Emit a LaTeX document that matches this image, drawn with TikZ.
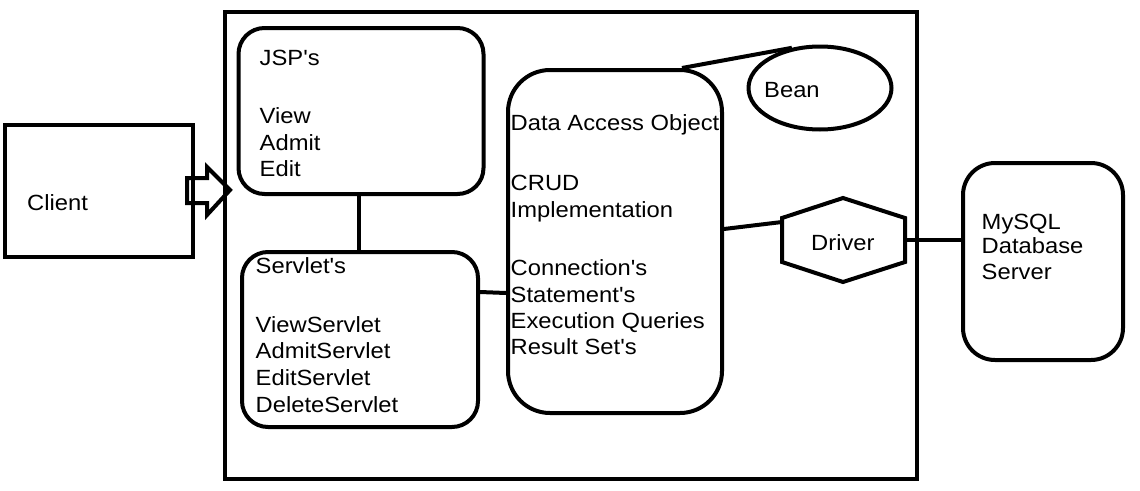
\documentclass[tikz,border=0pt]{standalone}
\usepackage{fontspec}
\newfontfamily\dfont{Liberation Sans}[FakeStretch=1.08]
\usetikzlibrary{shapes.geometric,calc}
\begin{document}
\begin{tikzpicture}[x=1pt,y=-1pt,
  ln/.style={line width=4pt},
  box/.style={ln,draw,rectangle,inner sep=0pt},
  txt/.style={anchor=base west,inner sep=0pt,font=\dfont\fontsize{22}{26}\selectfont}]
\useasboundingbox (0,0) rectangle (1140,490);
\fill[white] (0,0) rectangle (1140,490);
% outer box
\node[box,minimum width=692pt,minimum height=467pt] (outer) at (571,245.5) {};
% client
\node[box,minimum width=188pt,minimum height=132pt] (client) at (99,191) {};
\node[txt] (tclient) at (27,210) {Client};
% block arrow
\draw[ln,line join=miter] (187,178) -- (207,178) -- (207,167) -- (230,190) -- (207,215) -- (207,203) -- (187,203) -- cycle;
% JSP box
\node[box,rounded corners=26pt,minimum width=245pt,minimum height=166pt] (jsp) at (361,111) {};
\foreach \y/\t [count=\i] in {65/JSP's,123/View,150/Admit,176/Edit}
  \node[txt] (tjsp\i) at (259.5,\y) {\t};
% Servlet box
\node[box,rounded corners=26pt,minimum width=236pt,minimum height=175pt] (serv) at (360,339.5) {};
\foreach \y/\t [count=\i] in {273/Servlet's,332/ViewServlet,358/AdmitServlet,385/EditServlet,412/DeleteServlet}
  \node[txt] (tserv\i) at (255.5,\y) {\t};
% DAO box
\node[box,rounded corners=42pt,minimum width=214pt,minimum height=343pt] (dao) at (615,241.5) {};
\foreach \y/\t [count=\i] in {130/Data Access Object,190/CRUD,217/Implementation,275/Connection's,302/Statement's,328/Execution Queries,354/Result Set's}
  \node[txt] (tdao\i) at (510.5,\y) {\t};
% Bean
\node[ln,draw,ellipse,inner sep=0pt,minimum width=143pt,minimum height=83pt] (bean) at (820,88) {};
\node[txt] (tbean) at (764,97) {Bean};
% Driver hexagon
\coordinate (dl) at (782,222);
\coordinate (dr) at (905,240);
\draw[ln,line join=miter] (843,198) -- (905,218) -- (905,262) -- (843,282) -- (782,262) -- (782,218) -- cycle;
\node[txt] (tdrv) at (811,250) {Driver};
% MySQL box
\node[box,rounded corners=32pt,minimum width=160pt,minimum height=197pt] (mysql) at (1043,261.5) {};
\foreach \y/\t [count=\i] in {229/MySQL,253/Database,279/Server}
  \node[txt] (tdb\i) at (981.5,\y) {\t};
% connectors
\draw[ln] (jsp.south -| 359,0) -- (serv.north -| 359,0);
\draw[ln] (serv.east |- 0,292) -- (dao.west |- 0,293);
\draw[ln] (682,0 |- dao.north) -- (bean.125);
\draw[ln] (dao.east |- 0,229) -- (dl);
\draw[ln] (dr) -- (mysql.west |- 0,240);
\end{tikzpicture}
\end{document}
